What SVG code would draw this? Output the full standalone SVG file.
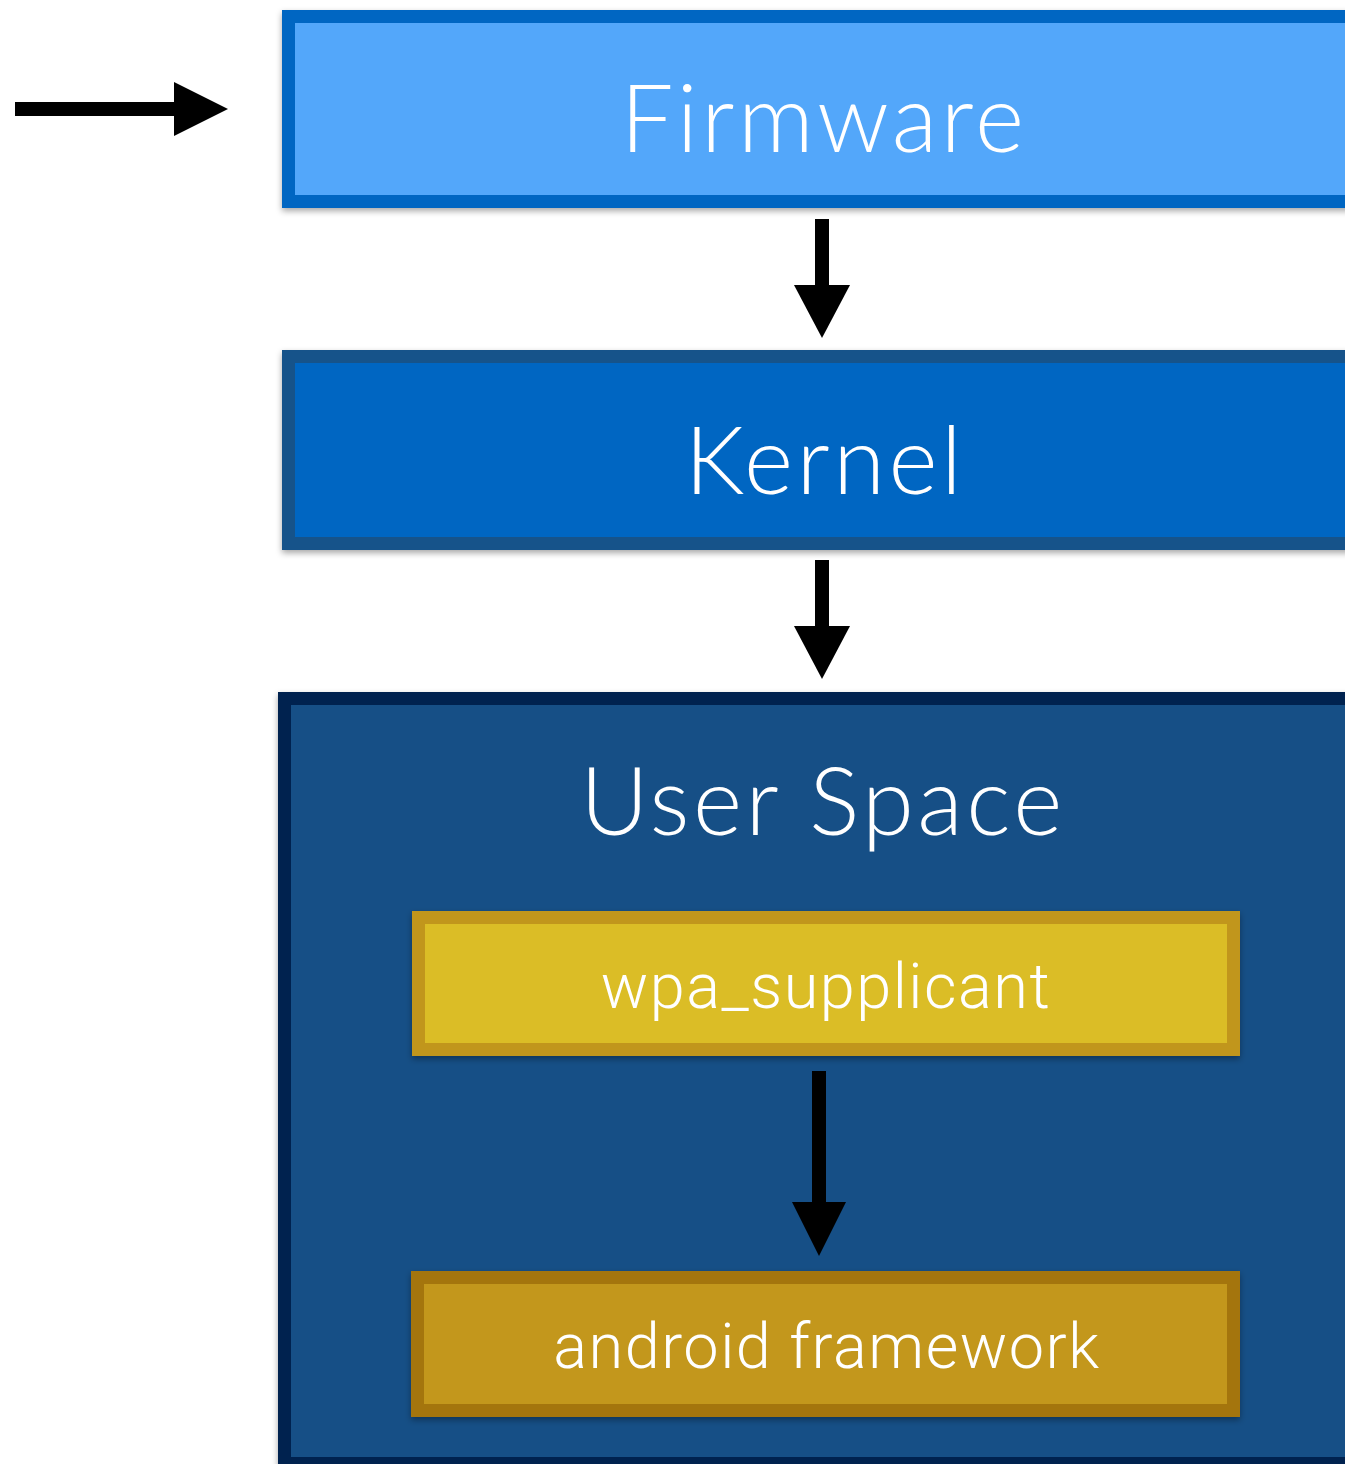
<svg xmlns="http://www.w3.org/2000/svg" width="1345" height="1464" viewBox="0 0 1345 1464">
<style>
.big{font-family:"Lato","Open Sans","DejaVu Sans",sans-serif;font-weight:300;font-size:94px;fill:#ffffff;text-anchor:middle;letter-spacing:3.5px}
.small{font-family:"Roboto","Liberation Sans","DejaVu Sans",sans-serif;font-weight:300;font-size:63px;fill:#ffffff;text-anchor:middle;letter-spacing:1.5px}
.arrow{stroke:#000;stroke-width:14;fill:none}
</style>
<defs>
<filter id="sh" x="-5%" y="-5%" width="110%" height="115%">
<feDropShadow dx="0" dy="3" stdDeviation="3" flood-color="#000" flood-opacity="0.35"/>
</filter>
</defs>
<rect width="1345" height="1464" fill="#ffffff"/>
<g id="firmware" filter="url(#sh)">
<rect x="282" y="10" width="1080" height="198" fill="#0366C2"/>
<rect x="295" y="23" width="1060" height="172" fill="#52A7FA"/>
<text class="big" x="824" y="152">Firmware</text>
</g>
<g id="kernel" filter="url(#sh)">
<rect x="282" y="350" width="1080" height="200" fill="#19528A"/>
<rect x="295" y="363" width="1060" height="174" fill="#0366C2"/>
<text class="big" x="825" y="494">Kernel</text>
</g>
<g id="userspace" filter="url(#sh)">
<rect x="278" y="692" width="1090" height="790" fill="#012350"/>
<rect x="291" y="705" width="1070" height="752" fill="#174F86"/>
<text class="big" x="823" y="835">User Space</text>
</g>
<g id="wpa_supplicant" filter="url(#sh)">
<rect x="412" y="911" width="828" height="145" fill="#C1961C"/>
<rect x="425" y="924" width="802" height="119" fill="#DBBD26"/>
<text class="small" x="826" y="1008">wpa_supplicant</text>
</g>
<g id="android_framework" filter="url(#sh)">
<rect x="411" y="1271" width="829" height="146" fill="#A47411"/>
<rect x="424" y="1284" width="803" height="120" fill="#C3971B"/>
<text class="small" x="827" y="1368">android framework</text>
</g>
<g id="connectors">
<line class="arrow" x1="15" y1="109" x2="176" y2="109"/>
<polygon points="174,82 228,109 174,136" fill="#000"/>
<line class="arrow" x1="822" y1="219" x2="822" y2="288"/>
<polygon points="794,285 850,285 822,338" fill="#000"/>
<line class="arrow" x1="822" y1="560" x2="822" y2="629"/>
<polygon points="794,626 850,626 822,679" fill="#000"/>
<line class="arrow" x1="819" y1="1071" x2="819" y2="1205"/>
<polygon points="792,1202 846,1202 819,1256" fill="#000"/>
</g>
</svg>
